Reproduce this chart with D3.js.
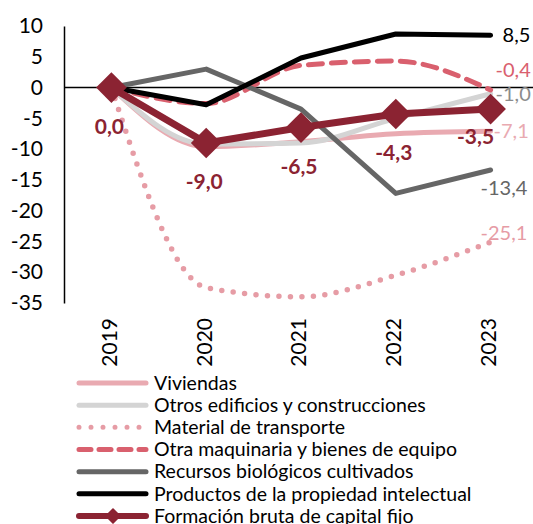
<!DOCTYPE html>
<html>
<head>
<meta charset="utf-8">
<script src="https://cdn.jsdelivr.net/npm/d3@7"></script>
<style>
  body { margin: 0; background: #fff; }
  svg text { font-family: "Gill Sans", "Lato", "Open Sans", sans-serif; }
</style>
</head>
<body>
<svg id="chart" width="533" height="524"></svg>
<script>
const years = ["2019", "2020", "2021", "2022", "2023"];
const yTicks = [10, 5, 0, -5, -10, -15, -20, -25, -30, -35];

const viviendas = [0, -9.6, -8.8, -7.5, -7.1];
const otrosEdificios = [0, -9.2, -9.0, -5.0, -1.0];
const materialTransporte = [0, -32.5, -34.0, -30.5, -25.1];
const otraMaquinaria = [0, -2.6, 3.6, 4.3, -0.4];
const recursosBiologicos = [0, 3.0, -3.5, -17.2, -13.4];
const productosPropiedad = [0, -2.8, 4.8, 8.7, 8.5];
const fbcf = [0, -9.0, -6.5, -4.3, -3.5];

const seriesNames = [
  "Viviendas",
  "Otros edificios y construcciones",
  "Material de transporte",
  "Otra maquinaria y bienes de equipo",
  "Recursos biológicos cultivados",
  "Productos de la propiedad intelectual",
  "Formación bruta de capital fijo"
];

const series = [
  {name: seriesNames[0], values: viviendas, color: "#e9aab1", width: 5, dash: null, smooth: true, end: "-7,1", endDy: 0, endDx: 3},
  {name: seriesNames[1], values: otrosEdificios, color: "#d4d4d4", labelColor: "#8c8c8c", width: 5, dash: null, smooth: true, end: "-1,0", endDy: 0, endDx: 5},
  {name: seriesNames[2], values: materialTransporte, color: "#e69ca5", width: 5.5, dash: "0 11.5", smooth: true, end: "-25,1", endDy: -9, endDx: -10},
  {name: seriesNames[3], values: otraMaquinaria, color: "#d9606e", width: 5, dash: "14 9", smooth: true, end: "-0,4", endDy: -20, endDx: 5},
  {name: seriesNames[4], values: recursosBiologicos, color: "#666666", width: 5, dash: null, smooth: false, end: "-13,4", endDy: 18, endDx: -10},
  {name: seriesNames[5], values: productosPropiedad, color: "#000000", width: 5, dash: null, smooth: false, end: "8,5", endDy: 0, endDx: 12},
  {name: seriesNames[6], values: fbcf, color: "#8b2332", width: 7, dash: null, smooth: false, marker: true}
];

const svg = d3.select("#chart");

const x = d3.scalePoint().domain(years).range([64, 538]).padding(0.5);
const y = d3.scaleLinear().domain([-35, 10]).range([303, 26]);

// y axis
const yAxis = svg.append("g")
  .attr("transform", "translate(64,0)")
  .call(d3.axisLeft(y).tickValues(yTicks).tickSize(0).tickPadding(21).tickFormat(d => d));
yAxis.select(".domain").attr("stroke", "#000").attr("stroke-width", 1.5);
yAxis.selectAll("text").attr("font-size", 21).attr("fill", "#000");

// zero line
svg.append("line")
  .attr("x1", 64).attr("x2", 533)
  .attr("y1", y(0)).attr("y2", y(0))
  .attr("stroke", "#000").attr("stroke-width", 1.5);

// year labels
svg.append("g").selectAll("text")
  .data(years)
  .join("text")
  .attr("transform", d => `translate(${x(d) - 2},318) rotate(-90)`)
  .attr("text-anchor", "end")
  .attr("dy", "0.35em")
  .attr("font-size", 21)
  .text(d => d);

// lines
series.forEach(s => {
  const line = d3.line()
    .x((d, i) => x(years[i]))
    .y(d => y(d))
    .curve(s.smooth ? d3.curveMonotoneX : d3.curveLinear);
  svg.append("path")
    .datum(s.values)
    .attr("d", line)
    .attr("fill", "none")
    .attr("stroke", s.color)
    .attr("stroke-width", s.width)
    .attr("stroke-linecap", "round")
    .attr("stroke-linejoin", "round")
    .attr("stroke-dasharray", s.dash);

  if (s.marker) {
    svg.append("g").selectAll("path")
      .data(s.values)
      .join("path")
      .attr("d", d3.symbol(d3.symbolSquare, 470))
      .attr("transform", (d, i) => `translate(${x(years[i])},${y(d)}) rotate(45)`)
      .attr("fill", s.color);

    svg.append("g").selectAll("text")
      .data(s.values)
      .join("text")
      .attr("x", (d, i) => x(years[i]) - (i === years.length - 1 ? 15 : 2))
      .attr("y", (d, i) => y(d) + (i === years.length - 1 ? 28 : 39))
      .attr("dy", "0.35em")
      .attr("text-anchor", "middle")
      .attr("font-size", 21)
      .attr("font-weight", "bold")
      .attr("fill", s.color)
      .text(d => d3.format(".1f")(d).replace(".", ",").replace("−", "-"));
  } else {
    const last = s.values[s.values.length - 1];
    svg.append("text")
      .attr("x", x(years[years.length - 1]) + s.endDx)
      .attr("y", y(last) + s.endDy)
      .attr("dy", "0.35em")
      .attr("font-size", 20)
      .attr("fill", s.labelColor || s.color)
      .text(s.end);
  }
});

// legend
const legend = svg.append("g");
const legendY = d3.scalePoint().domain(seriesNames).range([383, 516]);
series.forEach(s => {
  const g = legend.append("g").attr("transform", `translate(0,${legendY(s.name)})`);
  g.append("line")
    .attr("x1", 79).attr("x2", 146)
    .attr("stroke", s.color)
    .attr("stroke-width", s.marker ? 6 : 5)
    .attr("stroke-linecap", "round")
    .attr("stroke-dasharray", s.dash ? (s.dash === "0 11.5" ? "0 12" : "12 8") : null);
  if (s.marker) {
    g.append("path")
      .attr("d", d3.symbol(d3.symbolSquare, 130))
      .attr("transform", "translate(113,0) rotate(45)")
      .attr("fill", s.color);
  }
  g.append("text")
    .attr("x", 154)
    .attr("dy", "0.35em")
    .attr("font-size", 19.5)
    .attr("fill", "#000")
    .text(s.name);
});
</script>
</body>
</html>
